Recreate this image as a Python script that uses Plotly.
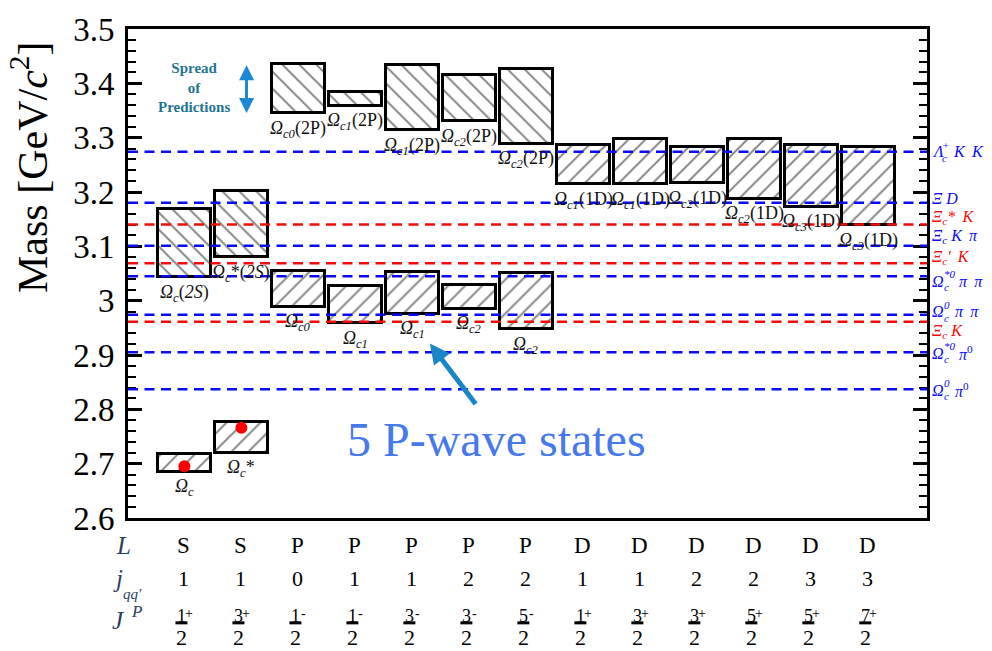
import plotly.graph_objects as go

# ---------------- data ----------------
columns = list(range(13))
L_row = ["S", "S", "P", "P", "P", "P", "P", "D", "D", "D", "D", "D", "D"]
j_row = ["1", "1", "0", "1", "1", "2", "2", "1", "1", "2", "2", "3", "3"]
J_num = ["1", "3", "1", "1", "3", "3", "5", "1", "3", "3", "5", "5", "7"]
J_par = ["+", "+", "-", "-", "-", "-", "-", "+", "+", "+", "+", "+", "+"]

# 1S states
s1_x = [0, 1]
s1_lo = [2.6855, 2.720]
s1_hi = [2.718, 2.776]
s1_names = ["Ω_c", "Ω_c*"]
measured_x = [0, 1]
measured_mass = [2.6952, 2.7659]

# 2S states
s2_x = [0, 1]
s2_lo = [3.043, 3.080]
s2_hi = [3.169, 3.202]
s2_names = ["Ω_c(2S)", "Ω_c*(2S)"]

# 1P states
p1_x = [2, 3, 4, 5, 6]
p1_lo = [2.989, 2.958, 2.976, 2.985, 2.947]
p1_hi = [3.054, 3.027, 3.053, 3.028, 3.051]
p1_names = ["Ω_c0", "Ω_c1", "Ω_c1", "Ω_c2", "Ω_c2"]

# 2P states
p2_x = [2, 3, 4, 5, 6]
p2_lo = [3.345, 3.3585, 3.314, 3.330, 3.289]
p2_hi = [3.4355, 3.384, 3.434, 3.4145, 3.4265]
p2_names = ["Ω_c0(2P)", "Ω_c1(2P)", "Ω_c1(2P)", "Ω_c2(2P)", "Ω_c2(2P)"]

# 1D states
d1_x = [7, 8, 9, 10, 11, 12]
d1_lo = [3.214, 3.214, 3.216, 3.188, 3.173, 3.1385]
d1_hi = [3.287, 3.298, 3.282, 3.297, 3.286, 3.283]
d1_names = ["Ω_c1(1D)", "Ω_c1(1D)", "Ω_c2(1D)", "Ω_c2(1D)", "Ω_c3(1D)", "Ω_c3(1D)"]

# thresholds
thr_mass = [3.274, 3.180, 3.140, 3.101, 3.069, 3.045, 2.974, 2.961, 2.905, 2.837]
thr_kind = ["b", "b", "r", "b", "r", "b", "b", "r", "b", "b"]
thr_base = ["Λ", "Ξ", "Ξ", "Ξ", "Ξ", "Ω", "Ω", "Ξ", "Ω", "Ω"]
thr_sub = ["c", "", "c", "c", "c", "c", "c", "c", "c", "c"]
thr_sup = ["+", "", "", "", "", "*0", "0", "", "*0", "0"]
thr_rest = ["K K", "D", "* K", "K π", "' K", "π π", "π π", "K", "π^0", "π^0"]
thr_label_shift = [0, 4.5, 7.5, 9, 5.5, -5, 3, -10, -1, -1]

# ---------------- styling ----------------
SERIF = "Liberation Serif"
BLUE = "rgb(10,10,245)"
RED = "rgb(245,10,10)"
PX = 1 / 57.0  # one pixel in x data units

fig = go.Figure()


def add_boxes(x, lo, hi, shape):
    fig.add_trace(go.Bar(
        x=x, y=[h - l for h, l in zip(hi, lo)], base=lo, width=0.93,
        marker=dict(color="white", line=dict(color="black", width=3),
                    pattern=dict(shape=shape, fgcolor="black", bgcolor="white",
                                 size=12, solidity=0.16)),
        hoverinfo="skip", showlegend=False))


add_boxes(s1_x, s1_lo, s1_hi, "/")
add_boxes(s2_x, s2_lo, s2_hi, "\\")
add_boxes(p1_x, p1_lo, p1_hi, "/")
add_boxes(p2_x, p2_lo, p2_hi, "\\")
add_boxes(d1_x, d1_lo, d1_hi, "/")

fig.add_trace(go.Scatter(x=measured_x, y=measured_mass, mode="markers",
                         marker=dict(color="red", size=12, line=dict(width=0)),
                         hoverinfo="skip", showlegend=False))

annotations = []
shapes = []


def fmt_name(name):
    base, rest = name.split("_")
    sub = ""
    i = 0
    while i < len(rest) and rest[i] in "c0123":
        sub += rest[i]
        i += 1
    suf = rest[i:].replace("2S", "<i>2S</i>")
    return f"<i>{base}</i><sub><i>{sub}</i></sub>{suf}"


for xs, los, names in [(s1_x, s1_lo, s1_names), (s2_x, s2_lo, s2_names),
                       (p1_x, p1_lo, p1_names), (p2_x, p2_lo, p2_names),
                       (d1_x, d1_lo, d1_names)]:
    for x, lo, nm in zip(xs, los, names):
        annotations.append(dict(x=x, y=lo, xref="x", yref="y", text=fmt_name(nm),
                                showarrow=False, yanchor="middle", yshift=-16,
                                font=dict(family=SERIF, size=18, color="#111")))

# threshold lines and labels
SP = "\u2009"
for m, k, b, sb, sp, rest, ysh in zip(thr_mass, thr_kind, thr_base, thr_sub,
                                      thr_sup, thr_rest, thr_label_shift):
    col = BLUE if k == "b" else RED
    shapes.append(dict(type="line", xref="paper", x0=0, x1=1, yref="y", y0=m, y1=m,
                       line=dict(color=col, width=2.5, dash="10px,6.5px"), layer="above"))
    rest_txt = rest.replace(" ", "\u00a0" + SP)
    rest_html = "<i>" + rest_txt.replace("^0", "</i><sup>0</sup><i>") + "</i>"
    f_big = dict(family=SERIF, size=16, color=col)
    f_small = dict(family=SERIF, size=11, color=col)
    x0 = 4
    common = dict(x=1, y=m, xref="paper", yref="y", showarrow=False,
                  xanchor="left", yanchor="middle", borderpad=0)
    if sb and sp:
        wb = {"Ω": 12, "Λ": 10, "Ξ": 11}[b]
        annotations.append(dict(common, text=f"<i>{b}</i>", xshift=x0, yshift=ysh,
                                font=f_big))
        annotations.append(dict(common, text=f"<i>{sb}</i>", xshift=x0 + wb,
                                yshift=ysh - 6, font=f_small))
        annotations.append(dict(common, text=f"<i>{sp}</i>", xshift=x0 + wb,
                                yshift=ysh + 7, font=f_small))
        wsp = 11 if len(sp) > 1 else 7
        annotations.append(dict(common, text=rest_html, xshift=x0 + wb + wsp + 4,
                                yshift=ysh, font=f_big))
    else:
        txt = f"<i>{b}</i>"
        if sb:
            txt += f"<sub><i>{sb}</i></sub>"
        if rest.startswith("*") or rest.startswith("'"):
            txt += rest_html
        else:
            txt += "\u00a0" + rest_html
        annotations.append(dict(common, text=txt, xshift=x0, yshift=ysh, font=f_big))

# quantum number rows under the plot
for c, Lv, jv, num, par in zip(columns, L_row, j_row, J_num, J_par):
    annotations.append(dict(x=c, y=0, xref="x", yref="paper", text=Lv, showarrow=False,
                            yanchor="middle", yshift=-27, xshift=-1,
                            font=dict(family=SERIF, size=23, color="black")))
    annotations.append(dict(x=c, y=0, xref="x", yref="paper", text=jv, showarrow=False,
                            yanchor="middle", yshift=-60, xshift=-1,
                            font=dict(family=SERIF, size=22, color="black")))
    annotations.append(dict(x=c, y=0, xref="x", yref="paper", text=num, showarrow=False,
                            yanchor="middle", yshift=-98, xshift=-3,
                            font=dict(family=SERIF, size=18, color="black")))
    annotations.append(dict(x=c, y=0, xref="x", yref="paper", text=par, showarrow=False,
                            yanchor="middle", yshift=-95, xshift=5,
                            font=dict(family=SERIF, size=14, color="black")))
    annotations.append(dict(x=c, y=0, xref="x", yref="paper", text="2", showarrow=False,
                            yanchor="middle", yshift=-119, xshift=-3, borderpad=0,
                            font=dict(family=SERIF, size=22, color="black")))
    shapes.append(dict(type="line", xref="x", yref="paper",
                       x0=c - 9 * PX, x1=c + 3 * PX,
                       y0=-107 / 499, y1=-107 / 499,
                       line=dict(color="black", width=3)))

# row headers
hdr = dict(xref="paper", yref="paper", x=0, y=0, showarrow=False,
           xanchor="center", yanchor="middle")
annotations += [
    dict(hdr, text="<i>L</i>", xshift=-5, yshift=-27, font=dict(family=SERIF, size=25)),
    dict(hdr, text="<i>j</i>", xshift=-10, yshift=-60, font=dict(family=SERIF, size=25)),
    dict(hdr, text="<i>qq'</i>", xshift=4, yshift=-76, font=dict(family=SERIF, size=15)),
    dict(hdr, text="<i>J</i>", xshift=-10, yshift=-102, font=dict(family=SERIF, size=25)),
    dict(hdr, text="<i>P</i>", xshift=8, yshift=-93, font=dict(family=SERIF, size=17)),
]

# y axis title
annotations.append(dict(xref="paper", yref="paper", x=0, y=1, xshift=-99, yshift=-138,
                        text="Mass [GeV/<i>c</i><sup>2</sup>]", textangle=-90,
                        showarrow=False, xanchor="center", yanchor="middle",
                        font=dict(family=SERIF, size=42, color="black")))

# "Spread of Predictions" note with double arrow
annotations.append(dict(x=0.17, y=3.392, xref="x", yref="y",
                        text="<b>Spread<br>of<br>Predictions</b>", showarrow=False,
                        font=dict(family=SERIF, size=15, color="#1f7590")))
annotations.append(dict(x=1.09, y=3.3455, ax=1.09, ay=3.436, xref="x", yref="y",
                        axref="x", ayref="y", text="", showarrow=True,
                        arrowhead=2, startarrowhead=2, arrowside="end+start",
                        arrowwidth=3, arrowsize=1, startarrowsize=1,
                        arrowcolor="#1a88d2", standoff=0, startstandoff=0))

# "5 P-wave states" with arrow
annotations.append(dict(x=5.48, y=2.744, xref="x", yref="y", text="5 P-wave states",
                        showarrow=False,
                        font=dict(family=SERIF, size=48, color="#4679ec")))
annotations.append(dict(x=4.307, y=2.921, ax=5.13, ay=2.807, xref="x", yref="y",
                        axref="x", ayref="y", text="", showarrow=True,
                        arrowhead=2, arrowwidth=5, arrowsize=0.8,
                        arrowcolor="#1a86c8", standoff=0))

fig.update_layout(
    width=992, height=651,
    margin=dict(l=128, r=65, t=19, b=133),
    paper_bgcolor="white", plot_bgcolor="white",
    barmode="overlay", bargap=0,
    showlegend=False,
    xaxis=dict(range=[-0.99, 13.03], showline=True, linewidth=3, linecolor="black",
               mirror=True, ticks="", showticklabels=False, showgrid=False,
               zeroline=False),
    yaxis=dict(range=[2.6, 3.5], tick0=2.6, dtick=0.1, ticks="inside", ticklen=14,
               tickwidth=2.5, tickcolor="black",
               minor=dict(dtick=0.02, ticks="inside", ticklen=8, tickwidth=2,
                          tickcolor="black", showgrid=False),
               showline=True, linewidth=3, linecolor="black", mirror="ticks",
               showgrid=False, zeroline=False, ticklabelstandoff=4,
               tickfont=dict(family=SERIF, size=33, color="black")),
    annotations=annotations,
    shapes=shapes,
)

fig.write_html("out.html")
